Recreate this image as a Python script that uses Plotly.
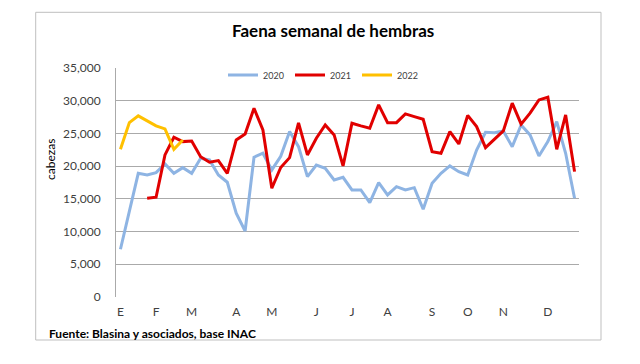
import plotly.graph_objects as go

weeks = list(range(52))
month_ticks = [0, 4, 8, 13, 17, 22, 26, 30, 35, 39, 43, 48]
month_labels = ["E", "F", "M", "A", "M", "J", "J", "A", "S", "O", "N", "D"]

y2020 = [7300, 13000, 18900, 18650, 19000, 20330, 18900, 19770, 18900, 21200,
         20950, 18650, 17540, 12800, 10090, 21360, 21970, 19420, 21500, 25280,
         22980, 18400, 20180, 19680, 17890, 18300, 16360, 16360, 14420, 17480,
         15600, 16870, 16360, 16710, 13410, 17390, 18910, 20030, 19160, 18650,
         22450, 25180, 25120, 25380, 22980, 26300, 24770, 21560, 23750, 26810,
         21970, 15090]

y2021 = [None, None, None, 15090, 15250, 21710, 24420, 23750, 23850, 21450,
         20590, 20850, 18910, 24000, 24920, 28850, 25530, 16620, 19800, 21300,
         26600, 21710, 24270, 26300, 24770, 20030, 26560, 26150, 25800, 29360,
         26650, 26650, 27980, 27570, 27170, 22220, 21970, 25280, 23390, 27750,
         26040, 22830, 24160, 25380, 29620, 26410, 28090, 30120, 30530, 22580,
         27830, 19160]

y2022 = [22580, 26650, 27680, 26960, 26150, 25690, 22580, 24000]

# page has an 8px body margin; work in page pixel coordinates
OFF = 8
W, H = 640 - OFF, 364 - OFF
L, R, T, B = 116, 579, 68, 297   # plot area in page pixels
pw, ph = R - L, B - T


def px(x):
    return (x - L) / pw


def py(y):
    return (B - y) / ph


fig = go.Figure()
fig.add_trace(go.Scatter(x=weeks, y=y2020, mode="lines", name="2020",
                         line=dict(color="#8EB4E3", width=3)))
fig.add_trace(go.Scatter(x=weeks, y=y2021, mode="lines", name="2021",
                         line=dict(color="#E10000", width=3)))
fig.add_trace(go.Scatter(x=weeks[:len(y2022)], y=y2022, mode="lines", name="2022",
                         line=dict(color="#FFC000", width=3)))

font_family = "Lato, 'Open Sans', sans-serif"

fig.update_layout(
    width=W, height=H,
    margin=dict(l=L - OFF, r=W - (R - OFF), t=T - OFF, b=H - (B - OFF)),
    paper_bgcolor="white", plot_bgcolor="white",
    font=dict(family=font_family, color="#404040", size=12),
    showlegend=True,
    legend=dict(orientation="h", x=px(223), y=py(75), xanchor="left", yanchor="middle",
                font=dict(size=9, color="#404040"), bgcolor="rgba(0,0,0,0)",
                entrywidth=22, entrywidthmode="pixels", tracegroupgap=0),
    xaxis=dict(range=[-0.5, 51.5], tickmode="array", tickvals=month_ticks,
               ticktext=month_labels, showgrid=False, zeroline=False,
               showline=False, ticks="", ticklabelstandoff=6,
               tickfont=dict(size=12, color="#404040")),
    yaxis=dict(range=[0, 35000], tickmode="array",
               tickvals=[0, 5000, 10000, 15000, 20000, 25000, 30000, 35000],
               tickformat=",d", showgrid=True, gridcolor="#AAAAAA", gridwidth=1,
               zeroline=False, showline=True, linecolor="#AAAAAA", linewidth=1,
               ticks="", ticklabelstandoff=12,
               tickfont=dict(size=12, color="#404040")),
    shapes=[
        dict(type="rect", xref="paper", yref="paper",
             x0=px(35.7), x1=px(601), y0=py(340), y1=py(12.3),
             line=dict(color="#BFBFBF", width=1), fillcolor="rgba(0,0,0,0)",
             layer="below"),
    ],
    annotations=[
        dict(text="<b>Faena semanal de hembras</b>", xref="paper", yref="paper",
             x=px(333), y=py(30), xanchor="center", yanchor="middle",
             showarrow=False, font=dict(size=17, color="#000000")),
        dict(text="cabezas", xref="paper", yref="paper", x=px(50), y=py(160),
             xanchor="center", yanchor="middle", textangle=-90, showarrow=False,
             font=dict(size=12, color="#000000")),
        dict(text="<b>Fuente: Blasina y asociados, base INAC</b>", xref="paper",
             yref="paper", x=px(47), y=py(333), xanchor="left", yanchor="middle",
             showarrow=False, font=dict(size=12, color="#000000")),
    ],
)

fig.write_html("out.html")
